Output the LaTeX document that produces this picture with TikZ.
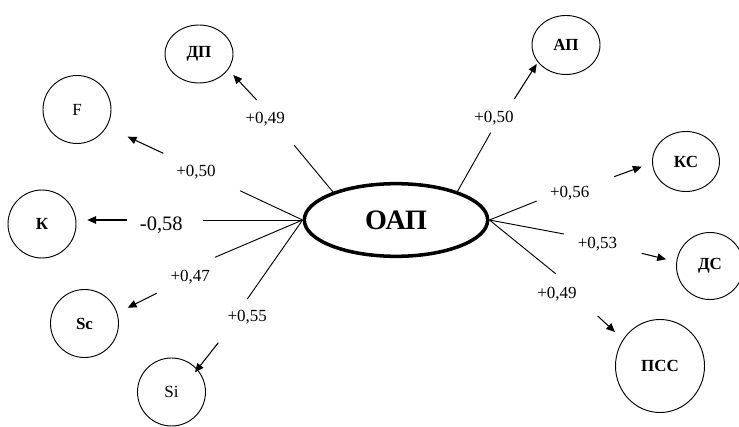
\documentclass[tikz,border=0pt]{standalone}
\usepackage{fontspec}
\setmainfont{Liberation Serif}
\usetikzlibrary{shapes.geometric,arrows.meta}
\tikzstyle{factor} = [ellipse, draw=black, line width=0.8pt, inner sep=0pt, minimum width=2.04cm, minimum height=2.04cm, font=\fontsize{14.5}{16}\selectfont]
\tikzstyle{keyfactor} = [factor, font=\fontsize{14.5}{16}\selectfont\bfseries]
\tikzstyle{central} = [ellipse, draw=black, line width=3pt, inner sep=0pt, minimum width=5.5cm, minimum height=2.18cm, font=\fontsize{24}{27}\selectfont\bfseries]
\tikzstyle{coef} = [font=\fontsize{14.5}{16}\selectfont]
\tikzstyle{link} = [line width=0.8pt]
\tikzstyle{arrow} = [line width=0.9pt, -{Triangle[length=7.5pt, width=6.5pt]}]

\begin{document}
\begin{tikzpicture}[x=0.03cm, y=-0.03cm]
  \useasboundingbox (0,0) rectangle (739,427);

  \node (oap) [central] at (396,220) {ОАП};

  \node (dp) [keyfactor, minimum height=1.74cm] at (199,54) {ДП};
  \node (f) [factor] at (77,109.5) {F};
  \node (k) [keyfactor] at (42,224) {К};
  \node (sc) [keyfactor] at (84.5,323.5) {Sc};
  \node (si) [factor] at (171.5,392) {Si};
  \node (ap) [keyfactor, minimum height=1.77cm] at (566,45) {АП};
  \node (ks) [keyfactor, minimum width=2.01cm, minimum height=1.8cm] at (686,161.5) {КС};
  \node (ds) [keyfactor, minimum width=2.01cm, minimum height=2.01cm] at (710,266) {ДС};
  \node (pss) [keyfactor, minimum width=2.67cm, minimum height=2.79cm] at (660,366) {ПСС};

  \node (dpval) [coef] at (265.3,119.3) {+0,49};
  \node (fval) [coef] at (196,171.7) {+0,50};
  \node (kval) [coef, font=\fontsize{17.5}{20}\selectfont] at (161.3,225) {-0,58};
  \node (scval) [coef] at (190.3,277.3) {+0,47};
  \node (sival) [coef] at (247.2,317.3) {+0,55};
  \node (apval) [coef] at (494,118.3) {+0,50};
  \node (ksval) [coef] at (569.7,192.7) {+0,56};
  \node (dsval) [coef] at (597.5,244) {+0,53};
  \node (pssval) [coef] at (557,294) {+0,49};

  \coordinate (dpend) at (294,145);
  \coordinate (dpfrom) at (256.7,100);
  \coordinate (dpto) at (233.3,75);
  \coordinate (fend) at (240,190.7);
  \coordinate (ffrom) at (163.3,153.3);
  \coordinate (fto) at (127.7,136.7);
  \coordinate (kend) at (203,220);
  \coordinate (kfrom) at (126.7,220);
  \coordinate (kto) at (87.3,220);
  \coordinate (scend) at (215,257.3);
  \coordinate (scfrom) at (156.7,293.3);
  \coordinate (scto) at (127.7,307.7);
  \coordinate (siend) at (247.3,299);
  \coordinate (sifrom) at (218.3,342.7);
  \coordinate (sito) at (195,372.3);
  \coordinate (apend) at (490.7,132.7);
  \coordinate (apfrom) at (514.3,99);
  \coordinate (apto) at (536.7,64);
  \coordinate (ksend) at (536.7,201);
  \coordinate (ksfrom) at (614,176.7);
  \coordinate (ksto) at (641.7,166.7);
  \coordinate (dsend) at (564,234);
  \coordinate (dsfrom) at (641.7,253.3);
  \coordinate (dsto) at (666,259.3);
  \coordinate (pssend) at (556,274);
  \coordinate (pssfrom) at (597.7,316);
  \coordinate (pssto) at (615,332);

  \draw [link] (oap.156) -- (dpend);
  \draw [arrow] (dpfrom) -- (dpto);
  \draw [link] (oap.west) -- (fend);
  \draw [arrow] (ffrom) -- (fto);
  \draw [link] (oap.west) -- (kend);
  \draw [arrow] (kfrom) -- (kto);
  \draw [link] (oap.west) -- (scend);
  \draw [arrow] (scfrom) -- (scto);
  \draw [link] (oap.west) -- (siend);
  \draw [arrow] (sifrom) -- (sito);
  \draw [link] (oap.25) -- (apend);
  \draw [arrow] (apfrom) -- (apto);
  \draw [link] (oap.east) -- (ksend);
  \draw [arrow] (ksfrom) -- (ksto);
  \draw [link] (oap.east) -- (dsend);
  \draw [arrow] (dsfrom) -- (dsto);
  \draw [link] (oap.east) -- (pssend);
  \draw [arrow] (pssfrom) -- (pssto);
\end{tikzpicture}
\end{document}
